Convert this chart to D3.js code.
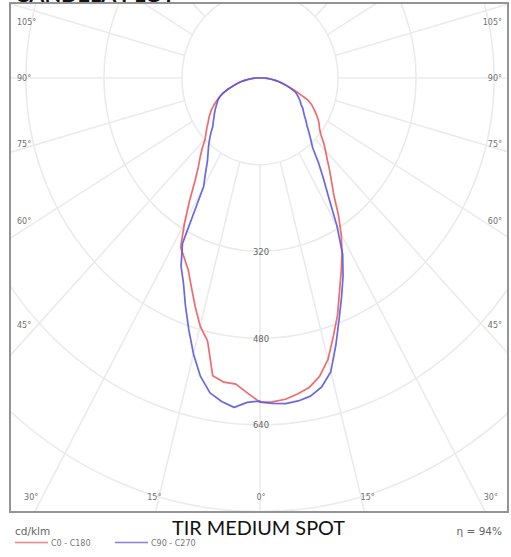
<!DOCTYPE html>
<html><head><meta charset="utf-8">
<script src="https://cdn.jsdelivr.net/npm/d3@7"></script>
<style>body{margin:0;background:#fff} svg{display:block}</style>
</head><body><svg id="c" width="511" height="557"></svg>
<script>
// ---------- data (cd/klm) ----------
const gammaDeg = [0,2.5,5,7.5,10,12.5,15,17.5,20,22.5,25,27.5,30,32.5,35,37.5,40,42.5,45,47.5,50,52.5,55,57.5,60,62.5,65,67.5,70,72.5,75,77.5,80,82.5,85,87.5,90];
const c180 = [598,582,567,566,558,497,474,442,411,384,367,352,310,269,233,208,191,175,159,150,142,134,128,121,114,106,97,89,80,69,57,49,40,30,20,14,10];
const c0   = [598,598,595,588,580,564,538,500,465,426,394,364,333,299,264,241,222,204,190,177,163,154,148,141,133,125,117,106,87,73,59,47,39,30,22,15,10];
const c270 = [596,599,610,602,590,564,527,486,447,410,383,344,231,208,188,175,164,153,142,131,125,119,114,109,104,99,95,89,80,69,58,49,40,30,21,14,10];
const c90  = [598,601,603,601,596,584,561,517,474,437,403,367,316,263,227,197,168,154,142,131,123,115,109,104,97,93,88,83,78,68,58,49,40,30,21,14,10];
const ringValues = [160,320,480,640,800];
const ringLabelValues = [320,480,640];
const spokeAngles = [0,15,30,45,60,75,90,105,120,135,150,165,180];
const sideLabelAngles = [105,90,75,60,45];
const bottomLabelAngles = [30,15,0];
const seriesNames = ["C0 - C180","C90 - C270"];
const chartTitle = "TIR MEDIUM SPOT";
const efficiency = "η = 94%";
const unitLabel = "cd/klm";

// ---------- layout ----------
const svg = d3.select("#c");
const frame = {x0:10, y0:3, x1:508, y1:512};
const cx = 260, cy = 78;
const ry = d3.scaleLinear().domain([0,800]).range([0,433.6]);
const rx = d3.scaleLinear().domain([0,800]).range([0,390.2]);
const rad = d => d*Math.PI/180;
function proj(g, v, side){
  const a = rad(g);
  return [cx + side*rx(v*Math.sin(a)), cy + ry(v*Math.cos(a))];
}

svg.append("defs").append("clipPath").attr("id","fc")
  .append("rect").attr("x",frame.x0).attr("y",frame.y0)
  .attr("width",frame.x1-frame.x0).attr("height",frame.y1-frame.y0);

// title (cut off at top, as in the reference)
svg.append("text").attr("x",15).attr("y",2).attr("font-family","Lato, sans-serif")
  .attr("font-weight","bold").attr("font-size",20).attr("fill","#111")
  .attr("textLength",160).attr("lengthAdjust","spacingAndGlyphs").text("CANDELA PLOT");

const grid = svg.append("g").attr("clip-path","url(#fc)");
const gridColor = "#ebebeb";

// rings
grid.selectAll("ellipse.ring").data(ringValues).join("ellipse")
  .attr("class","ring").attr("cx",cx).attr("cy",cy)
  .attr("rx",d=>rx(d)).attr("ry",d=>ry(d))
  .attr("fill","none").attr("stroke",gridColor).attr("stroke-width",1.6);

// spokes (from first ring outward)
const spokes = [];
spokeAngles.forEach(a=>{ spokes.push([a,-1]); if(a!==0 && a!==180) spokes.push([a,1]); });
grid.selectAll("line.spoke").data(spokes).join("line")
  .attr("class","spoke")
  .attr("x1",d=>proj(d[0],ringValues[0],d[1])[0]).attr("y1",d=>proj(d[0],ringValues[0],d[1])[1])
  .attr("x2",d=>proj(d[0],1400,d[1])[0]).attr("y2",d=>proj(d[0],1400,d[1])[1])
  .attr("stroke",gridColor).attr("stroke-width",1.6);

// ring labels
svg.selectAll("text.rl").data(ringLabelValues).join("text")
  .attr("class","rl").attr("x",cx+1).attr("y",d=>cy+ry(d)+3.5)
  .attr("text-anchor","middle").attr("font-family","DejaVu Sans, sans-serif")
  .attr("font-size",8.5).attr("fill","#666").text(d=>d);

// angle labels
const lblFont = {family:"DejaVu Sans, sans-serif", size:8};
function sideY(a){
  const dx = 235; const y = cy + dx*Math.cos(rad(a))/(0.95*Math.sin(rad(a)));
  return Math.max(22, y);
}
sideLabelAngles.forEach(a=>{
  const y = sideY(a);
  svg.append("text").attr("x",frame.x0+7).attr("y",y+3).attr("text-anchor","start")
    .attr("font-family",lblFont.family).attr("font-size",lblFont.size).attr("fill","#6f6f6f").text(a+"°");
  svg.append("text").attr("x",frame.x1-6).attr("y",y+3).attr("text-anchor","end")
    .attr("font-family",lblFont.family).attr("font-size",lblFont.size).attr("fill","#6f6f6f").text(a+"°");
});
bottomLabelAngles.forEach(a=>{
  const dy = 497-cy; const dx = Math.min(232, 0.95*dy*Math.tan(rad(a)));
  [-1,1].forEach(s=>{
    if(a===0 && s===1) return;
    svg.append("text").attr("x",cx+s*dx+1).attr("y",500).attr("text-anchor","middle")
      .attr("font-family",lblFont.family).attr("font-size",lblFont.size).attr("fill","#6f6f6f").text(a+"°");
  });
});

// curves
const line = d3.line().x(d=>d[0]).y(d=>d[1]);
function curvePts(left, right){
  const pts = [];
  for(let i=gammaDeg.length-1;i>=0;i--) pts.push(proj(gammaDeg[i], left[i], -1));
  for(let i=0;i<gammaDeg.length;i++) pts.push(proj(gammaDeg[i], right[i], 1));
  return pts;
}
const curves = [
  {name:seriesNames[0], left:c180, right:c0, color:"#ee5a5e"},
  {name:seriesNames[1], left:c270, right:c90, color:"#5a58e0"}
];
svg.append("g").attr("clip-path","url(#fc)").selectAll("path.curve").data(curves).join("path")
  .attr("class","curve").attr("d",d=>line(curvePts(d.left,d.right))+"Z")
  .attr("fill","none").attr("stroke",d=>d.color).attr("stroke-width",1.7)
  .attr("stroke-opacity",0.9).attr("stroke-linejoin","round");

// frame
svg.append("rect").attr("x",frame.x0).attr("y",frame.y0)
  .attr("width",frame.x1-frame.x0).attr("height",frame.y1-frame.y0)
  .attr("fill","none").attr("stroke","#949494").attr("stroke-width",2);

// footer
svg.append("text").attr("x",15).attr("y",535).attr("font-family","DejaVu Sans, sans-serif")
  .attr("font-size",10.5).attr("fill","#666").text(unitLabel);
svg.append("text").attr("x",502).attr("y",535).attr("text-anchor","end").attr("font-family","DejaVu Sans, sans-serif")
  .attr("font-size",10.5).attr("fill","#666").text(efficiency);
svg.append("text").attr("x",258.5).attr("y",535).attr("text-anchor","middle").attr("font-family","Lato, sans-serif")
  .attr("font-size",20).attr("fill","#111").attr("textLength",173).attr("lengthAdjust","spacingAndGlyphs").text(chartTitle);

const leg = svg.append("g");
curves.forEach((c,i)=>{
  const x0 = 15 + i*100;
  leg.append("line").attr("x1",x0).attr("x2",x0+33).attr("y1",542.5).attr("y2",542.5)
    .attr("stroke",c.color).attr("stroke-width",1.3).attr("stroke-opacity",0.75);
  leg.append("text").attr("x",x0+36).attr("y",545.5).attr("font-family","DejaVu Sans, sans-serif")
    .attr("font-size",8).attr("fill","#777").text(c.name);
});
</script></body></html>
